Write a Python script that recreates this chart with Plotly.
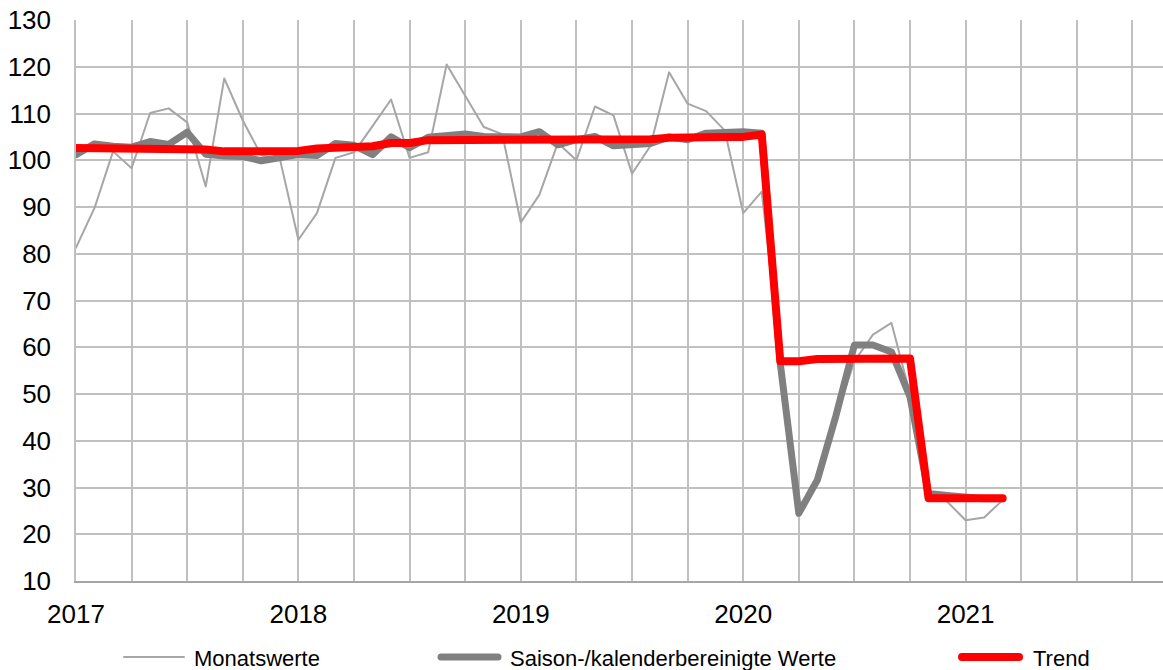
import plotly.graph_objects as go

# Monate ab Januar 2017 (0 = Jan 2017)
jahre = ['2017', '2018', '2019', '2020', '2021']

monatswerte = [81.3, 89.8, 101.9, 98.3, 110.1, 111.1, 108.1, 94.4, 117.5, 108.5, 101.0, 100.3,
               83.0, 88.7, 100.5, 101.7, 107.3, 113.0, 100.5, 101.7, 120.5, 113.7, 107.1, 105.6,
               86.7, 92.6, 103.7, 100.0, 111.5, 109.6, 97.1, 103.1, 118.8, 112.1, 110.5, 106.4,
               88.7, 93.3, 57.5, 25.0, 32.0, 45.0, 57.0, 62.7, 65.2, 50.0, 29.0, 27.0,
               23.0, 23.6, 27.3]

saisonbereinigt = [101.2, 103.5, 103.0, 102.8, 104.0, 103.4, 106.0, 101.3, 100.9, 100.8, 99.9, 100.4,
                   101.2, 101.0, 103.6, 103.2, 101.2, 105.0, 102.7, 104.9, 105.1, 105.6, 105.1, 104.9,
                   105.0, 106.1, 103.3, 104.4, 105.1, 103.1, 103.2, 103.6, 105.0, 104.4, 105.8, 105.9,
                   106.1, 105.8, 56.5, 24.5, 31.6, 45.3, 60.5, 60.5, 59.0, 49.4, 28.7, 28.3,
                   27.8, 27.6, 27.6]

trend = [102.6, 102.6, 102.5, 102.5, 102.5, 102.5, 102.5, 102.3, 101.9, 101.9, 101.9, 101.9,
         102.0, 102.5, 102.7, 103.0, 103.0, 103.7, 103.7, 104.3, 104.3, 104.3, 104.5, 104.5,
         104.5, 104.5, 104.5, 104.5, 104.5, 104.5, 104.5, 104.5, 104.8, 105.0, 105.0, 105.0,
         105.0, 105.5, 57.0, 57.0, 57.5, 57.6, 57.6, 57.6, 57.6, 57.6, 27.7, 27.7,
         27.7, 27.7, 27.7]

monat = list(range(len(monatswerte)))

FONT = 'Liberation Sans, Arial, sans-serif'

fig = go.Figure()
fig.add_trace(go.Scatter(x=monat, y=monatswerte, mode='lines', name='Monatswerte',
                         line=dict(color='#A6A6A6', width=2)))
fig.add_trace(go.Scatter(x=monat, y=saisonbereinigt, mode='lines', name='Saison-/kalenderbereinigte Werte',
                         line=dict(color='#808080', width=7)))
fig.add_trace(go.Scatter(x=monat, y=trend, mode='lines', name='Trend',
                         line=dict(color='#FF0000', width=8)))

# Quartals-Gitter, Beschriftung nur an Jahresanfang
tickvals = list(range(0, 58, 3))
ticktext = [jahre[v // 12] if v % 12 == 0 else '' for v in tickvals]

fig.update_xaxes(range=[0, 58.65], tickvals=tickvals, ticktext=ticktext,
                 showgrid=True, gridcolor='#C0C0C0', gridwidth=1.5,
                 showline=True, linecolor='#A6A6A6', linewidth=2,
                 zeroline=False, ticks='', ticklabelstandoff=9,
                 tickfont=dict(size=26, color='black', family=FONT))
fig.update_yaxes(range=[10, 130], dtick=10,
                 showgrid=True, gridcolor='#C0C0C0', gridwidth=1.5,
                 showline=True, linecolor='#C0C0C0', linewidth=1.5,
                 zeroline=False, ticks='', ticklabelstandoff=18,
                 tickfont=dict(size=26, color='black', family=FONT))

# Legende unten, wie im Original mit langen Linienmustern
W = 1087.0
H = 561.0
def px_x(p):
    return (p - 76) / W
def px_y(p):
    return (581 - p) / H

legende = [
    ('Monatswerte', '#A6A6A6', 2, 124, 184, 192),
    ('Saison-/kalenderbereinigte Werte', '#808080', 7, 441, 498, 508),
    ('Trend', '#FF0000', 8, 962, 1019, 1031),
]
for text, farbe, breite, x0, x1, xt in legende:
    fig.add_shape(type='line', xref='paper', yref='paper',
                  x0=px_x(x0), x1=px_x(x1), y0=px_y(657), y1=px_y(657),
                  line=dict(color=farbe, width=breite))
    fig.add_annotation(xref='paper', yref='paper', x=px_x(xt), y=px_y(658),
                       text=text, showarrow=False, xanchor='left', yanchor='middle',
                       font=dict(size=22, color='black', family=FONT))

fig.update_layout(width=1163, height=670, showlegend=False,
                  margin=dict(l=76, r=0, t=20, b=89),
                  plot_bgcolor='white', paper_bgcolor='white',
                  font=dict(family=FONT, color='black'))

nachbearbeitung = ("document.body.style.margin='0';"
                   "document.querySelectorAll('.scatterlayer .js-line, .shapelayer path')"
                   ".forEach(function(p){p.style.strokeLinejoin='round';p.style.strokeLinecap='round';});")
fig.write_html("out.html", post_script=nachbearbeitung, config={'displayModeBar': False})
